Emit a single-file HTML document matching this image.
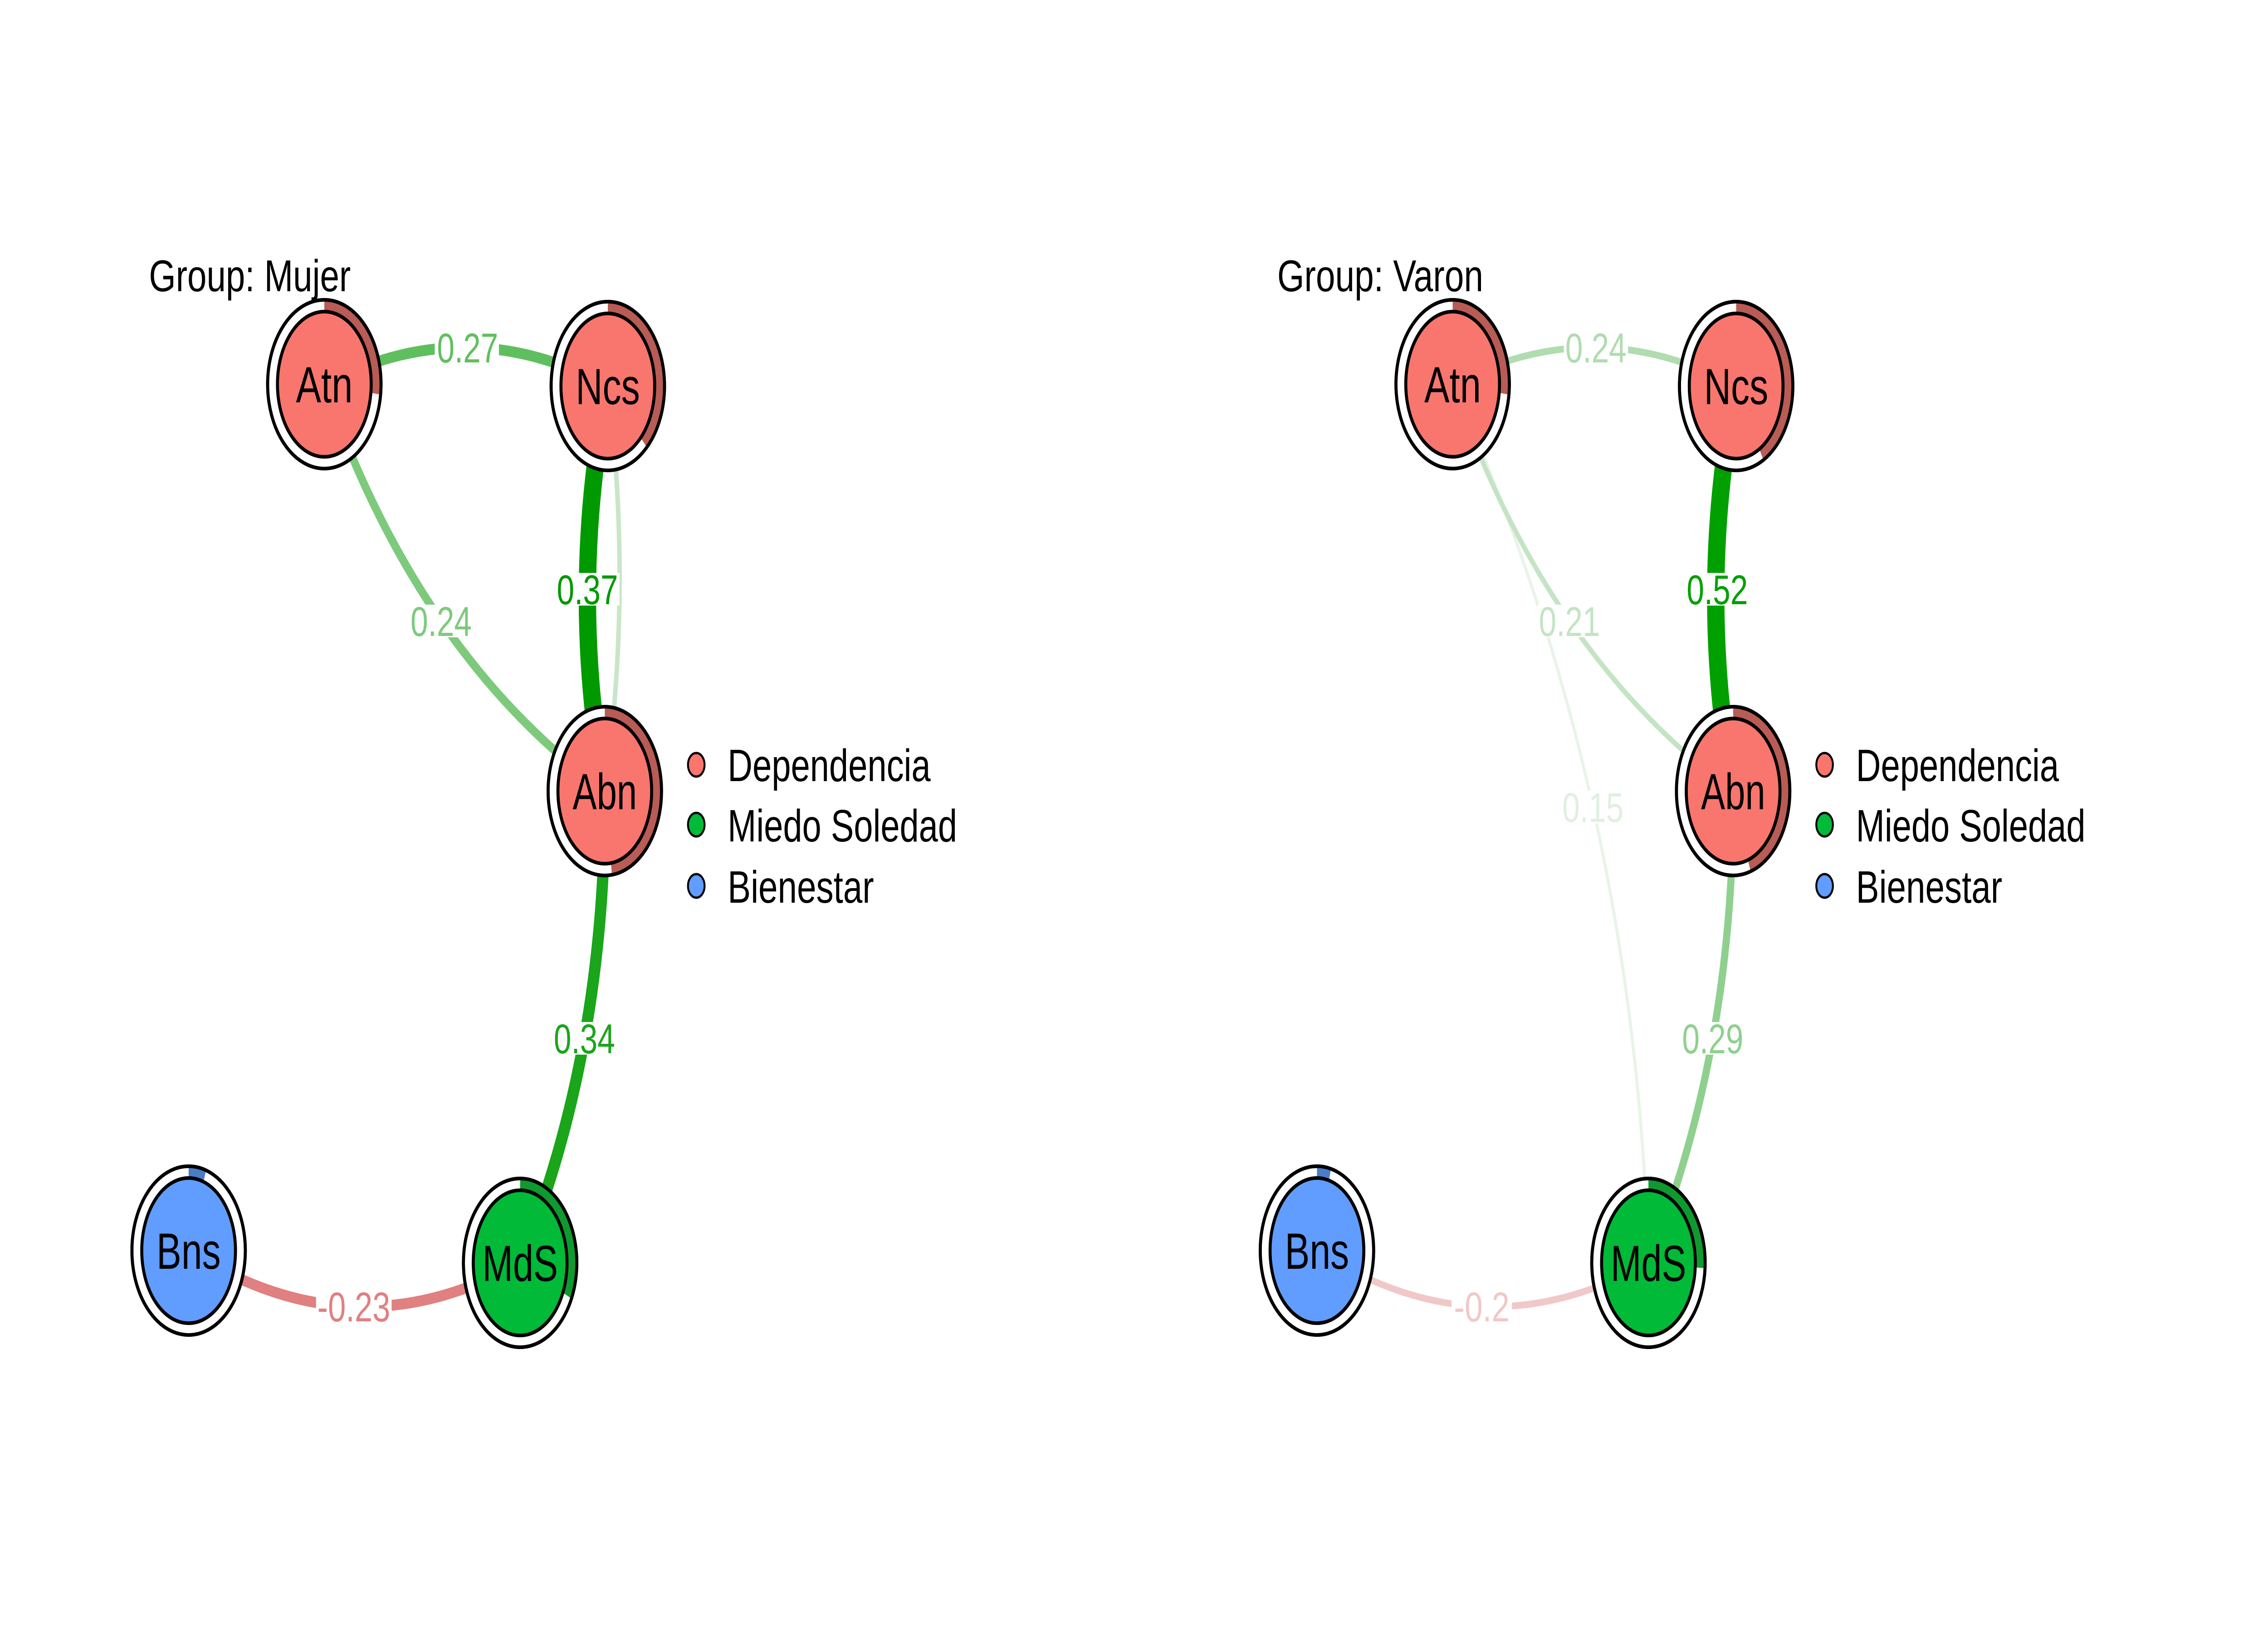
<!DOCTYPE html>
<html><head><meta charset="utf-8"><style>html,body{margin:0;padding:0;background:#fff;overflow:hidden;width:100%;height:100%}svg{display:block;width:100vw;height:100vh}</style></head>
<body>
<svg viewBox="0 0 6000 3600" preserveAspectRatio="none" xmlns="http://www.w3.org/2000/svg" font-family="Liberation Sans, Arial, sans-serif">
<rect width="6000" height="3600" fill="#fff"/>

<!-- LEFT PANEL -->
<g fill="none" stroke-linecap="butt">
  <path d="M1608 851 Q1674 1297 1600 1744" stroke="#c8e6c8" stroke-width="12"/>
  <path d="M858 847 Q1233 683 1608 851" stroke="#5fbf5f" stroke-width="24"/>
  <path d="M858 847 Q1105 1442 1600 1744" stroke="#7dca7d" stroke-width="20"/>
  <path d="M1608 851 Q1504 1297 1600 1744" stroke="#009900" stroke-width="46"/>
  <path d="M1600 1744 Q1604 2314 1376 2784" stroke="#1aa51a" stroke-width="30"/>
  <path d="M499 2757 Q934 2990 1376 2784" stroke="#e08080" stroke-width="24"/>
</g>
<g font-size="92" text-anchor="middle">
  <rect x="1150" y="730" width="170" height="72" fill="#fff"/>
  <text x="1237" y="799" fill="#5fbf5f" textLength="162" lengthAdjust="spacingAndGlyphs">0.27</text>
  <rect x="1082" y="1333" width="170" height="72" fill="#fff"/>
  <text x="1167" y="1402" fill="#7dca7d" textLength="162" lengthAdjust="spacingAndGlyphs">0.24</text>
  <rect x="1469" y="1263" width="170" height="72" fill="#fff"/>
  <text x="1554" y="1332" fill="#009900" textLength="162" lengthAdjust="spacingAndGlyphs">0.37</text>
  <rect x="1461" y="2253" width="170" height="72" fill="#fff"/>
  <text x="1546" y="2322" fill="#1aa51a" textLength="162" lengthAdjust="spacingAndGlyphs">0.34</text>
  <rect x="836" y="2844" width="200" height="72" fill="#fff"/>
  <text x="936" y="2913" fill="#e08080" textLength="193" lengthAdjust="spacingAndGlyphs">-0.23</text>
</g>

<!-- RIGHT PANEL -->
<g fill="none">
  <path d="M3843 847 Q4326 1742 4361 2784" stroke="#e8f4e8" stroke-width="8"/>
  <path d="M3843 847 Q4218 683 4593 851" stroke="#b0dcb0" stroke-width="15"/>
  <path d="M3843 847 Q4090 1442 4585 1744" stroke="#c4e4c4" stroke-width="12"/>
  <path d="M4593 851 Q4489 1297 4585 1744" stroke="#00a000" stroke-width="46"/>
  <path d="M4585 1744 Q4589 2314 4361 2784" stroke="#8fd08f" stroke-width="19"/>
  <path d="M3484 2757 Q3919 2990 4361 2784" stroke="#f0c8c8" stroke-width="15"/>
</g>
<g font-size="92" text-anchor="middle">
  <rect x="4137" y="730" width="170" height="72" fill="#fff"/>
  <text x="4222" y="799" fill="#b0dcb0" textLength="162" lengthAdjust="spacingAndGlyphs">0.24</text>
  <rect x="4067" y="1333" width="170" height="72" fill="#fff"/>
  <text x="4152" y="1402" fill="#c4e4c4" textLength="162" lengthAdjust="spacingAndGlyphs">0.21</text>
  <rect x="4458" y="1263" width="170" height="72" fill="#fff"/>
  <text x="4543" y="1332" fill="#00a000" textLength="162" lengthAdjust="spacingAndGlyphs">0.52</text>
  <rect x="4129" y="1743" width="170" height="72" fill="#fff"/>
  <text x="4214" y="1812" fill="#e0f0e0" textLength="162" lengthAdjust="spacingAndGlyphs">0.15</text>
  <rect x="4446" y="2253" width="170" height="72" fill="#fff"/>
  <text x="4531" y="2322" fill="#8fd08f" textLength="162" lengthAdjust="spacingAndGlyphs">0.29</text>
  <rect x="3840" y="2844" width="160" height="72" fill="#fff"/>
  <text x="3920" y="2913" fill="#f0c8c8" textLength="147" lengthAdjust="spacingAndGlyphs">-0.2</text>
</g>

<!-- NODES -->
<g stroke="#000" stroke-width="8">
  <ellipse cx="858" cy="847" rx="150" ry="186" fill="#fff"/>
  <path d="M858 847 L858 661 A150 186 0 0 1 1007 870 Z" fill="#b85c55" stroke="none"/>
  <ellipse cx="858" cy="847" rx="150" ry="186" fill="none"/>
  <ellipse cx="858" cy="847" rx="124" ry="160" fill="#f8766d"/>

  <ellipse cx="1608" cy="851" rx="150" ry="186" fill="#fff"/>
  <path d="M1608 851 L1608 665 A150 186 0 0 1 1711 986 Z" fill="#b85c55" stroke="none"/>
  <ellipse cx="1608" cy="851" rx="150" ry="186" fill="none"/>
  <ellipse cx="1608" cy="851" rx="124" ry="160" fill="#f8766d"/>

  <ellipse cx="1600" cy="1744" rx="150" ry="186" fill="#fff"/>
  <path d="M1600 1744 L1600 1558 A150 186 0 0 1 1619 1929 Z" fill="#b85c55" stroke="none"/>
  <ellipse cx="1600" cy="1744" rx="150" ry="186" fill="none"/>
  <ellipse cx="1600" cy="1744" rx="124" ry="160" fill="#f8766d"/>

  <ellipse cx="499" cy="2757" rx="150" ry="186" fill="#fff"/>
  <path d="M499 2757 L499 2571 A150 186 0 0 1 545 2580 Z" fill="#4a7cc8" stroke="none"/>
  <ellipse cx="499" cy="2757" rx="150" ry="186" fill="none"/>
  <ellipse cx="499" cy="2757" rx="124" ry="160" fill="#619cff"/>

  <ellipse cx="1376" cy="2784" rx="150" ry="186" fill="#fff"/>
  <path d="M1376 2784 L1376 2598 A150 186 0 0 1 1512 2863 Z" fill="#0e9a2e" stroke="none"/>
  <ellipse cx="1376" cy="2784" rx="150" ry="186" fill="none"/>
  <ellipse cx="1376" cy="2784" rx="124" ry="160" fill="#00ba38"/>

  <ellipse cx="3843" cy="847" rx="150" ry="186" fill="#fff"/>
  <path d="M3843 847 L3843 661 A150 186 0 0 1 3992 870 Z" fill="#b85c55" stroke="none"/>
  <ellipse cx="3843" cy="847" rx="150" ry="186" fill="none"/>
  <ellipse cx="3843" cy="847" rx="124" ry="160" fill="#f8766d"/>

  <ellipse cx="4593" cy="851" rx="150" ry="186" fill="#fff"/>
  <path d="M4593 851 L4593 665 A150 186 0 0 1 4665 1014 Z" fill="#b85c55" stroke="none"/>
  <ellipse cx="4593" cy="851" rx="150" ry="186" fill="none"/>
  <ellipse cx="4593" cy="851" rx="124" ry="160" fill="#f8766d"/>

  <ellipse cx="4585" cy="1744" rx="150" ry="186" fill="#fff"/>
  <path d="M4585 1744 L4585 1558 A150 186 0 0 1 4631 1921 Z" fill="#b85c55" stroke="none"/>
  <ellipse cx="4585" cy="1744" rx="150" ry="186" fill="none"/>
  <ellipse cx="4585" cy="1744" rx="124" ry="160" fill="#f8766d"/>

  <ellipse cx="3484" cy="2757" rx="150" ry="186" fill="#fff"/>
  <path d="M3484 2757 L3484 2571 A150 186 0 0 1 3521 2577 Z" fill="#4a7cc8" stroke="none"/>
  <ellipse cx="3484" cy="2757" rx="150" ry="186" fill="none"/>
  <ellipse cx="3484" cy="2757" rx="124" ry="160" fill="#619cff"/>

  <ellipse cx="4361" cy="2784" rx="150" ry="186" fill="#fff"/>
  <path d="M4361 2784 L4361 2598 A150 186 0 0 1 4511 2796 Z" fill="#0e9a2e" stroke="none"/>
  <ellipse cx="4361" cy="2784" rx="150" ry="186" fill="none"/>
  <ellipse cx="4361" cy="2784" rx="124" ry="160" fill="#00ba38"/>
</g>

<g font-size="112" text-anchor="middle" fill="#000">
  <text x="858" y="887" textLength="150" lengthAdjust="spacingAndGlyphs">Atn</text>
  <text x="1608" y="891" textLength="170" lengthAdjust="spacingAndGlyphs">Ncs</text>
  <text x="1600" y="1784" textLength="170" lengthAdjust="spacingAndGlyphs">Abn</text>
  <text x="499" y="2797" textLength="170" lengthAdjust="spacingAndGlyphs">Bns</text>
  <text x="1376" y="2824" textLength="200" lengthAdjust="spacingAndGlyphs">MdS</text>
  <text x="3843" y="887" textLength="150" lengthAdjust="spacingAndGlyphs">Atn</text>
  <text x="4593" y="891" textLength="170" lengthAdjust="spacingAndGlyphs">Ncs</text>
  <text x="4585" y="1784" textLength="170" lengthAdjust="spacingAndGlyphs">Abn</text>
  <text x="3484" y="2797" textLength="170" lengthAdjust="spacingAndGlyphs">Bns</text>
  <text x="4361" y="2824" textLength="200" lengthAdjust="spacingAndGlyphs">MdS</text>
</g>

<g font-size="98" fill="#000">
  <text x="394" y="642" textLength="534" lengthAdjust="spacingAndGlyphs">Group: Mujer</text>
  <text x="3379" y="642" textLength="545" lengthAdjust="spacingAndGlyphs">Group: Varon</text>
</g>

<g stroke="#000" stroke-width="5">
  <ellipse cx="1842" cy="1686" rx="22" ry="26" fill="#f8766d"/>
  <ellipse cx="1842" cy="1818" rx="22" ry="26" fill="#00ba38"/>
  <ellipse cx="1842" cy="1953" rx="22" ry="26" fill="#619cff"/>
  <ellipse cx="4827" cy="1686" rx="22" ry="26" fill="#f8766d"/>
  <ellipse cx="4827" cy="1818" rx="22" ry="26" fill="#00ba38"/>
  <ellipse cx="4827" cy="1953" rx="22" ry="26" fill="#619cff"/>
</g>
<g font-size="100" fill="#000">
  <text x="1925" y="1722" textLength="537" lengthAdjust="spacingAndGlyphs">Dependencia</text>
  <text x="1925" y="1855" textLength="607" lengthAdjust="spacingAndGlyphs">Miedo Soledad</text>
  <text x="1925" y="1990" textLength="387" lengthAdjust="spacingAndGlyphs">Bienestar</text>
  <text x="4910" y="1722" textLength="537" lengthAdjust="spacingAndGlyphs">Dependencia</text>
  <text x="4910" y="1855" textLength="607" lengthAdjust="spacingAndGlyphs">Miedo Soledad</text>
  <text x="4910" y="1990" textLength="387" lengthAdjust="spacingAndGlyphs">Bienestar</text>
</g>
</svg>
</body></html>
